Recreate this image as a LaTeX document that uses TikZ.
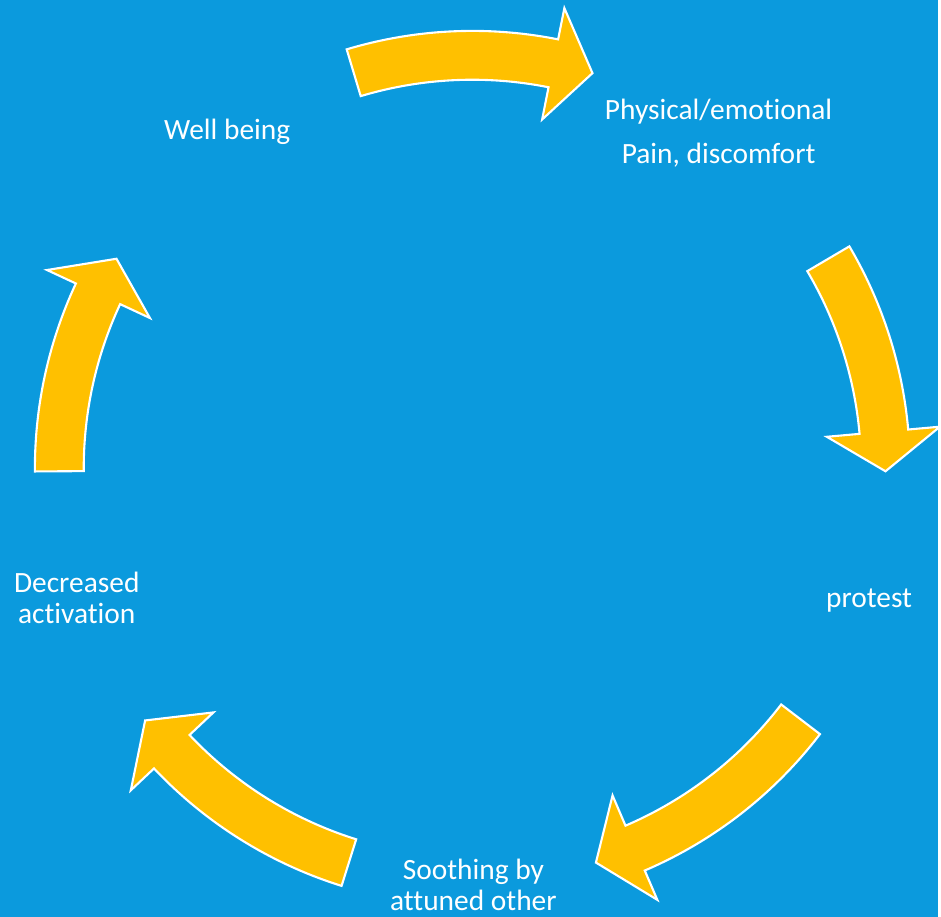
\documentclass[tikz,border=0pt]{standalone}
\usepackage{fontspec}
\setmainfont{Carlito}[Ligatures=NoCommon]
\usepackage{xcolor}
\usepackage{tikz}
\usetikzlibrary{positioning}
\definecolor{cycblue}{HTML}{0B9ADD}
\definecolor{cycgold}{HTML}{FFC000}

\tikzset{
  stage/.style={font=\fontsize{16.8}{18.2}\selectfont, text=white, align=center, inner sep=0pt},
  cyclearrow/.style={fill=cycgold, draw=white, line width=1.2pt, line join=miter}
}

\begin{document}
\begin{tikzpicture}[x=1cm, y=1cm]

  %% Background
  \fill[cycblue] (0,0) rectangle (18.82,18.40);

  %% Curved block arrows round the cycle: tail angle / head base angle / tip angle
  \begin{scope}[shift={(9.48,9.00)}]
    \foreach \ta/\hb/\tp in {106.7/78.7/73.1, 30.5/5.1/-0.4, -37.4/-66.8/-72.6,
                             -107.4/-136.7/-142.4, 180.4/155/149.5}{
      \draw[cyclearrow] (\ta:8.78) arc[start angle=\ta, end angle=\hb, radius=8.78]
        -- (\hb:9.42) -- (\tp:8.29) -- (\hb:7.14) -- (\hb:7.80)
        arc[start angle=\hb, end angle=\ta, radius=7.80] -- cycle;
    }
  \end{scope}

  %% Stages (two-line nodes sit on the baseline of their last line)
  \node[stage, anchor=base] (well) at (4.56,15.60) {Well being};
  \node[stage, anchor=base] (pain) at (14.42,16.00) {Physical/emotional};
  \node[stage, anchor=base] (discomfort) at (14.42,15.12) {Pain, discomfort};
  \node[stage, anchor=base] (protest) at (17.44,6.20) {protest};
  \node[stage, anchor=base] (soothing) at (9.50,0.12) {Soothing by\\attuned other};
  \node[stage, anchor=base] (decreased) at (1.54,5.88) {Decreased\\activation};

\end{tikzpicture}
\end{document}
